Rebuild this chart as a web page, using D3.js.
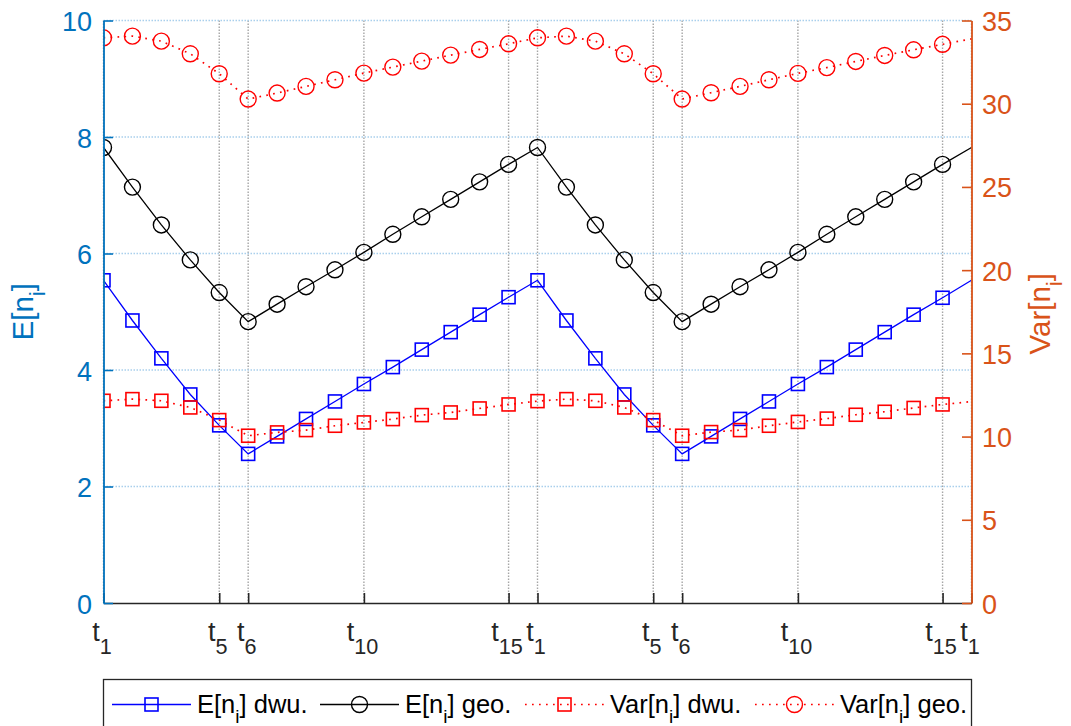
<!DOCTYPE html>
<html>
<head>
<meta charset="utf-8">
<script src="https://cdn.jsdelivr.net/npm/d3@7"></script>
<style>
  html, body { margin: 0; padding: 0; background: #fff; }
  svg { display: block; font-family: "Liberation Sans", Arial, Helvetica, sans-serif; }
</style>
</head>
<body>
<svg id="chart" width="1071" height="726"></svg>
<script>
// Sampling instants: two full cycles t1..t15 plus the closing t1
const steps = d3.range(31);

// Tick positions (step index) and their subscripts on the time axis
const tickSteps = [0, 4, 5, 9, 14, 15, 19, 20, 24, 29, 30];
const tickSubs  = ["1", "5", "6", "10", "15", "1", "5", "6", "10", "15", "1"];

// Left axis: expected number E[n_i]
const eDwu = [5.54, 4.85, 4.20, 3.58, 3.05, 2.56, 2.86, 3.16, 3.46, 3.76, 4.05, 4.35, 4.65, 4.95, 5.25,
              5.54, 4.85, 4.20, 3.58, 3.05, 2.56, 2.86, 3.16, 3.46, 3.76, 4.05, 4.35, 4.65, 4.95, 5.24, 5.54];
const eGeo = [7.82, 7.14, 6.49, 5.89, 5.33, 4.83, 5.13, 5.43, 5.72, 6.02, 6.33, 6.63, 6.93, 7.23, 7.53,
              7.82, 7.14, 6.49, 5.89, 5.33, 4.83, 5.13, 5.43, 5.72, 6.02, 6.33, 6.63, 6.93, 7.23, 7.53, 7.82];

// Right axis: variance Var[n_i]
const varDwu = [12.15, 12.25, 12.15, 11.75, 10.99, 10.05, 10.25, 10.39, 10.65, 10.85, 11.05, 11.29, 11.45, 11.69, 11.93,
                12.13, 12.25, 12.15, 11.75, 10.99, 10.05, 10.27, 10.39, 10.65, 10.88, 11.08, 11.31, 11.49, 11.72, 11.93, 12.10];
const varGeo = [33.96, 34.06, 33.76, 33.00, 31.80, 30.28, 30.64, 31.04, 31.44, 31.84, 32.20, 32.56, 32.92, 33.26, 33.60,
                33.96, 34.06, 33.76, 33.00, 31.80, 30.28, 30.66, 31.04, 31.44, 31.82, 32.17, 32.54, 32.90, 33.24, 33.57, 33.90];

// Axis ticks
const leftTicks  = [0, 2, 4, 6, 8, 10];
const rightTicks = [0, 5, 10, 15, 20, 25, 30, 35];

const BLUE_AX = "#0072BD", ORANGE_AX = "#D95319", DARK = "#262626";

const svg = d3.select("#chart");
const X0 = 103.5, X1 = 971.5, Y0 = 603, Y1 = 20.5;

const x  = d3.scaleLinear().domain([0, 30]).range([X0, X1]);
const yL = d3.scaleLinear().domain([0, 10]).range([Y0, Y1]);
const yR = d3.scaleLinear().domain([0, 35]).range([Y0, Y1]);

// ---- grid ----
const grid = svg.append("g");
grid.selectAll("line.v").data(tickSteps).join("line")
  .attr("x1", d => x(d)).attr("x2", d => x(d))
  .attr("y1", Y1).attr("y2", Y0)
  .attr("stroke", "#a6a6a6").attr("stroke-width", 1.4)
  .attr("stroke-dasharray", "1.5,1.5");
grid.selectAll("line.h").data(leftTicks.filter(d => d > 0)).join("line")
  .attr("x1", X0).attr("x2", X1)
  .attr("y1", d => yL(d)).attr("y2", d => yL(d))
  .attr("stroke", "#a9cfec").attr("stroke-width", 1.4)
  .attr("stroke-dasharray", "1.5,1.5");

// ---- data ----
svg.append("clipPath").attr("id", "plotClip")
  .append("rect").attr("x", X0).attr("y", 0).attr("width", X1 - X0).attr("height", Y0);

const plot = svg.append("g").attr("clip-path", "url(#plotClip)");

const SQ = 13, R = 8;

function drawSeries(values, yScale, color, dashed, marker) {
  const pts = steps.map(i => [x(i), yScale(values[i])]);
  plot.append("path")
    .attr("d", d3.line()(pts))
    .attr("fill", "none")
    .attr("stroke", color)
    .attr("stroke-width", dashed ? 1.7 : 1.3)
    .attr("stroke-dasharray", dashed ? "1.7,5.3" : null);
  // markers on every sample except the closing one
  const mk = pts.slice(0, 30);
  if (marker === "square") {
    plot.append("g").selectAll("rect").data(mk).join("rect")
      .attr("x", d => d[0] - SQ / 2).attr("y", d => d[1] - SQ / 2)
      .attr("width", SQ).attr("height", SQ)
      .attr("fill", "none").attr("stroke", color).attr("stroke-width", 1.6);
  } else {
    plot.append("g").selectAll("circle").data(mk).join("circle")
      .attr("cx", d => d[0]).attr("cy", d => d[1]).attr("r", R)
      .attr("fill", "none").attr("stroke", color).attr("stroke-width", 1.4);
  }
}

drawSeries(eDwu, yL, "#0000FF", false, "square");
drawSeries(eGeo, yL, "#000000", false, "circle");
drawSeries(varDwu, yR, "#FF0000", true, "square");
drawSeries(varGeo, yR, "#FF0000", true, "circle");

// ---- axes ----
const FS = 27;

const xAxis = svg.append("g").attr("transform", `translate(0,${Y0})`)
  .call(d3.axisBottom(x).tickValues(tickSteps).tickSizeInner(-10).tickSizeOuter(0).tickFormat(""));
xAxis.select(".domain").attr("stroke", DARK).attr("stroke-width", 1.6);
xAxis.selectAll(".tick line").attr("stroke", DARK).attr("stroke-width", 1.6);
xAxis.selectAll(".tick").each(function (d, i) {
  const t = d3.select(this).select("text")
    .attr("y", 38).attr("dy", null).attr("x", -2)
    .attr("fill", DARK).attr("font-size", FS).attr("text-anchor", "middle");
  t.text(null);
  t.append("tspan").text("t");
  t.append("tspan").attr("font-size", FS * 0.8).attr("dy", 13).text(tickSubs[i]);
});

const leftAxis = svg.append("g").attr("transform", `translate(${X0},0)`)
  .call(d3.axisLeft(yL).tickValues(leftTicks).tickSizeInner(-9.5).tickSizeOuter(0).tickPadding(11.5));
leftAxis.select(".domain").attr("stroke", BLUE_AX).attr("stroke-width", 1.8);
leftAxis.selectAll(".tick line").attr("stroke", BLUE_AX).attr("stroke-width", 1.6);
leftAxis.selectAll(".tick text").attr("fill", BLUE_AX).attr("font-size", FS).attr("dy", "0.37em");

const rightAxis = svg.append("g").attr("transform", `translate(${X1},0)`)
  .call(d3.axisRight(yR).tickValues(rightTicks).tickSizeInner(-9.5).tickSizeOuter(0).tickPadding(10.5));
rightAxis.select(".domain").attr("stroke", ORANGE_AX).attr("stroke-width", 1.8);
rightAxis.selectAll(".tick line").attr("stroke", ORANGE_AX).attr("stroke-width", 1.6);
rightAxis.selectAll(".tick text").attr("fill", ORANGE_AX).attr("font-size", FS).attr("dy", "0.37em");

// let the svg-wide font apply to the axis groups
svg.selectAll("g[font-family]").attr("font-family", null).attr("font-size", null);

// ---- axis labels ----
const LFS = 29.5;
function subLabel(g, main, sub, color) {
  const t = g.append("text").attr("fill", color).attr("font-size", LFS).attr("text-anchor", "middle");
  t.append("tspan").text(main);
  t.append("tspan").attr("font-size", LFS * 0.75).attr("dy", 12).text(sub);
  t.append("tspan").attr("dy", -12).text("]");
  return t;
}
subLabel(svg.append("g").attr("transform", `translate(33,${(Y0 + Y1) / 2}) rotate(-90)`), "E[n", "i", BLUE_AX);
subLabel(svg.append("g").attr("transform", `translate(1050,${(Y0 + Y1) / 2 + 2}) rotate(-90)`), "Var[n", "i", ORANGE_AX);

// ---- legend ----
const legend = svg.append("g");
legend.append("rect")
  .attr("x", 103.5).attr("y", 679.5).attr("width", 868).attr("height", 70)
  .attr("fill", "#fff").attr("stroke", DARK).attr("stroke-width", 1.3);

const legendItems = [
  { name: "E[n", tail: "] dwu.", color: "#0000FF", dashed: false, marker: "square", x0: 112 },
  { name: "E[n", tail: "] geo.", color: "#000000", dashed: false, marker: "circle", x0: 320 },
  { name: "Var[n", tail: "] dwu.", color: "#FF0000", dashed: true, marker: "square", x0: 525 },
  { name: "Var[n", tail: "] geo.", color: "#FF0000", dashed: true, marker: "circle", x0: 755 }
];
const LY = 704.5, LLEN = 79, LFS2 = 25.5;
legendItems.forEach(it => {
  const g = legend.append("g");
  g.append("line").attr("x1", it.x0).attr("x2", it.x0 + LLEN).attr("y1", LY).attr("y2", LY)
    .attr("stroke", it.color).attr("stroke-width", it.dashed ? 1.7 : 1.3)
    .attr("stroke-dasharray", it.dashed ? "1.7,5.3" : null);
  const cx = it.x0 + LLEN / 2;
  if (it.marker === "square") {
    g.append("rect").attr("x", cx - SQ / 2).attr("y", LY - SQ / 2).attr("width", SQ).attr("height", SQ)
      .attr("fill", "none").attr("stroke", it.color).attr("stroke-width", 1.6);
  } else {
    g.append("circle").attr("cx", cx).attr("cy", LY).attr("r", R)
      .attr("fill", "none").attr("stroke", it.color).attr("stroke-width", 1.4);
  }
  const t = g.append("text").attr("x", it.x0 + LLEN + 6).attr("y", 713)
    .attr("font-size", LFS2).attr("fill", "#000");
  t.append("tspan").text(it.name);
  t.append("tspan").attr("font-size", LFS2 * 0.75).attr("dy", 10).text("i");
  t.append("tspan").attr("dy", -10).text(it.tail);
});
</script>
</body>
</html>
